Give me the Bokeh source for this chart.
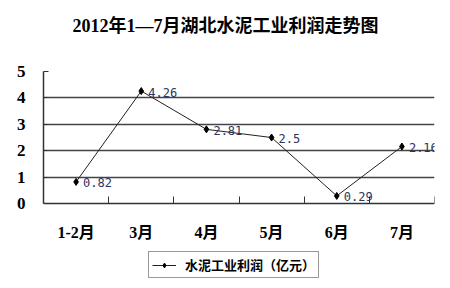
from bokeh.plotting import figure
from bokeh.models import (ColumnDataSource, FixedTicker, Label, LabelSet,
                          Legend, LegendItem, Range1d)
from bokeh.core.properties import value
from bokeh.embed import file_html
from bokeh.resources import INLINE

# 2012年1—7月湖北水泥工业利润（亿元）
chart_title = "2012年1—7月湖北水泥工业利润走势图"
months = ["1-2月", "3月", "4月", "5月", "6月", "7月"]
profit = [0.82, 4.26, 2.81, 2.5, 0.29, 2.16]
y_ticks = [0, 1, 2, 3, 4, 5]

# each month sits in the middle of its own unit-wide slot
xpos = [i + 0.5 for i in range(len(months))]
src = ColumnDataSource(dict(x=xpos, y=profit,
                            label=[f"{v:g}" for v in profit]))

SERIF_BOLD = "Liberation Serif, Noto Sans CJK SC"

# The frame fills the whole canvas height: the value axis is bounded to
# 0..5, the category axis is pinned at y = 0, and the title and legend sit
# in the free space above and below.
p = figure(width=450, height=288, output_backend="svg", toolbar_location=None,
           x_range=Range1d(0, len(months)), y_range=Range1d(-2.99, 7.69),
           min_border_left=43, min_border_right=16, min_border_top=0,
           min_border_bottom=6)
p.outline_line_color = None
p.background_fill_color = "white"
p.border_fill_color = "white"

p.add_layout(Label(x=182, y=257, x_units="screen", y_units="screen",
                   text=chart_title, text_align="center",
                   text_baseline="middle", text_font=SERIF_BOLD,
                   text_font_size="18px", text_font_style="bold",
                   text_color="black"))

# x axis: labels at slot centres, short inward ticks at slot boundaries
xa = p.xaxis[0]
xa.fixed_location = 0
xa.ticker = FixedTicker(ticks=xpos, minor_ticks=list(range(len(months) + 1)))
xa.major_label_overrides = {x: m for x, m in zip(xpos, months)}
xa.major_tick_line_color = None
xa.minor_tick_in = 7
xa.minor_tick_out = 0
xa.minor_tick_line_color = "#333333"
xa.axis_line_color = "#333333"
xa.axis_line_width = 1.5
xa.major_label_text_font = SERIF_BOLD
xa.major_label_text_font_style = "bold"
xa.major_label_text_font_size = "16px"
xa.major_label_text_color = "black"
xa.major_label_standoff = 14

ya = p.yaxis[0]
ya.bounds = (0, 5)
ya.ticker = FixedTicker(ticks=y_ticks)
ya.major_tick_in = 5
ya.major_tick_out = 0
ya.major_tick_line_color = "#333333"
ya.minor_tick_line_color = None
ya.axis_line_color = "#333333"
ya.axis_line_width = 1.5
ya.major_label_text_font = SERIF_BOLD
ya.major_label_text_font_style = "bold"
ya.major_label_text_font_size = "17px"
ya.major_label_text_color = "black"
ya.major_label_standoff = 18

p.xgrid.grid_line_color = None
p.ygrid.ticker = FixedTicker(ticks=[1, 2, 3, 4])
p.ygrid.grid_line_color = "#444444"
p.ygrid.grid_line_width = 1.5

line = p.line("x", "y", source=src, line_color="#222222", line_width=1)
pts = p.scatter("x", "y", source=src, marker="diamond", size=7,
                fill_color="black", line_color="black")

labels = LabelSet(x="x", y="y", text="label", source=src, x_offset=7,
                  y_offset=-1, text_baseline="middle", text_align="left",
                  text_font_size="12px", text_color="#2b3560",
                  text_font=value("DejaVu Sans Mono"))
p.add_layout(labels)

legend = Legend(items=[LegendItem(label="水泥工业利润（亿元）",
                                  renderers=[line, pts])],
                location=(105, 4), orientation="horizontal",
                label_text_font="Noto Sans CJK SC",
                label_text_font_style="bold", label_text_font_size="13px",
                label_text_color="black", label_standoff=9,
                label_height=12, glyph_width=24, glyph_height=12,
                padding=3, margin=0, spacing=0,
                border_line_color="#333333", border_line_width=1.2,
                background_fill_alpha=1)
p.add_layout(legend)

open("out.html", "w").write(file_html(p, INLINE))
